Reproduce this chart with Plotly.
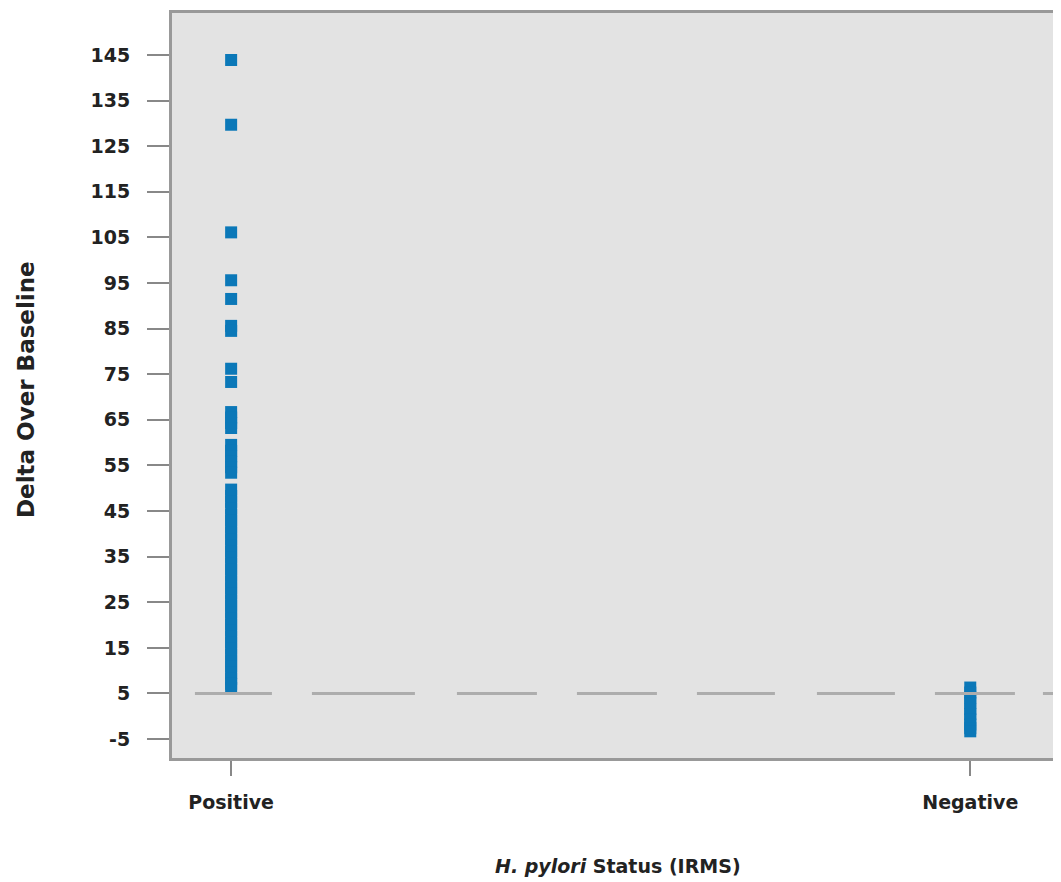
import plotly.graph_objects as go

categories = ["Positive", "Negative"]
cat_pos = [1, 2]

positive_values = [
    143.9, 129.7, 106.1, 95.6, 91.5, 85.6, 84.5, 76.2, 73.3,
    66.7, 65.5, 64.3, 63.2,
    59.5, 58.2, 57.0, 55.8, 54.6, 53.4,
    49.7, 48.3, 47.0, 45.6, 44.1, 42.9, 41.5, 40.2, 38.8, 37.5,
    36.1, 34.9, 33.4, 32.2, 30.8, 29.5, 28.1, 26.9, 25.4, 24.2,
    22.8, 21.5, 20.1, 18.9, 17.4, 16.2, 14.8, 13.5, 12.1, 10.9,
    9.5, 8.2, 7.1, 6.2,
]
negative_values = [6.3, 5.2, 4.1, 2.9, 1.6, 0.5, -0.7, -1.8, -2.6, -3.3]

y_ticks = [-5, 5, 15, 25, 35, 45, 55, 65, 75, 85, 95, 105, 115, 125, 135, 145]
threshold = 5

blue = "#0b78b8"
font_fam = "DejaVu Sans, Verdana, sans-serif"
txt = "#222222"

# page offset: browser body margin of 8px is compensated in the margins
W, H = 1053, 874
L, R, T, B = 164, 2, 2, 124
plot_w = W - L - R
plot_h = H - T - B

fig = go.Figure()
fig.add_trace(go.Scatter(
    x=[cat_pos[0]] * len(positive_values), y=positive_values,
    mode="markers",
    marker=dict(symbol="square", size=12, color=blue, line=dict(width=0)),
    showlegend=False,
))
fig.add_trace(go.Scatter(
    x=[cat_pos[1]] * len(negative_values), y=negative_values,
    mode="markers",
    marker=dict(symbol="square", size=12, color=blue, line=dict(width=0)),
    showlegend=False,
))

fig.add_shape(
    type="line", xref="paper", yref="y", x0=23 / plot_w, x1=1, y0=threshold, y1=threshold,
    line=dict(color="#adadad", width=3,
              dash="77px,40px,103px,42px,80px,40px,80px,40px,78px,42px,78px,40px,80px,28px,100px"),
    layer="above",
)

fig.update_layout(
    width=W, height=H,
    margin=dict(l=L, r=R, t=T, b=B),
    paper_bgcolor="white",
    plot_bgcolor="#e3e3e3",
    font=dict(family=font_fam, size=19, color=txt),
    xaxis=dict(
        range=[0.92, 2.116],
        tickvals=cat_pos, ticktext=[f"<b>{c}</b>" for c in categories],
        ticks="outside", ticklen=15, tickwidth=2, tickcolor="#888888",
        ticklabelstandoff=10,
        showline=True, linecolor="#999999", linewidth=3, mirror=True,
        showgrid=False, zeroline=False,
        tickfont=dict(size=19, color=txt),
    ),
    yaxis=dict(
        range=[-9.15, 154.2],
        tickvals=y_ticks, ticktext=[f"<b>{t}</b>" for t in y_ticks],
        ticks="outside", ticklen=22, tickwidth=2, tickcolor="#888888",
        ticklabelstandoff=13,
        showline=True, linecolor="#999999", linewidth=3, mirror=True,
        showgrid=False, zeroline=False,
        tickfont=dict(size=19, color=txt),
    ),
    annotations=[
        dict(text="<b>Delta Over Baseline</b>", xref="paper", yref="paper",
             x=(26 - 172) / plot_w, y=1 - (388 - 10) / plot_h,
             xanchor="center", yanchor="middle",
             textangle=-90, showarrow=False, font=dict(size=23, color=txt)),
        dict(text="<b><i>H. pylori</i> Status (IRMS)</b>", xref="paper", yref="paper",
             x=(620 - 172) / plot_w, y=-(866 - 758) / plot_h,
             xanchor="center", yanchor="middle",
             showarrow=False, font=dict(size=19, color=txt)),
    ],
)

fig.write_html("out.html")
